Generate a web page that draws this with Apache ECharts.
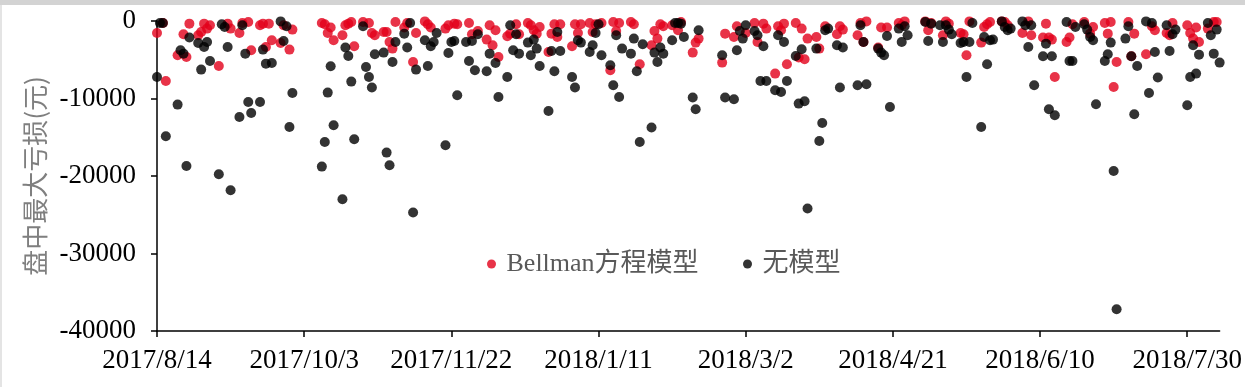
<!DOCTYPE html>
<html>
<head>
<meta charset="utf-8">
<script src="https://cdn.jsdelivr.net/npm/echarts@6/dist/echarts.min.js"></script>
<style>
html,body{margin:0;padding:0;background:#fff;}
#wrap{position:relative;width:1245px;height:387px;overflow:hidden;}
#chart{position:absolute;left:0;top:0;width:1245px;height:387px;}
#topband{position:absolute;left:0;top:0;width:1245px;height:5px;background:#d3d3d3;}
#leftband{position:absolute;left:0;top:5px;width:2px;height:382px;background:#e4e4e4;}
</style>
</head>
<body>
<div id="wrap"><div id="chart"></div><div id="topband"></div><div id="leftband"></div></div>
<script>
// ---------- data ----------
const startDate = '2017-08-14';
const axisEndDay = 361;          // 2018-08-10
const tickDays = [0, 50, 100, 150, 200, 250, 300, 350];
const yTicks = [0, -10000, -20000, -30000, -40000];
const seriesNames = ['Bellman方程模型', '无模型'];

const bellmanDates = ['2017-08-14','2017-08-16','2017-08-17','2017-08-21','2017-08-23','2017-08-24','2017-08-25','2017-08-28','2017-08-29','2017-08-30','2017-08-31','2017-09-01','2017-09-04','2017-09-07','2017-09-08','2017-09-11','2017-09-12','2017-09-14','2017-09-15','2017-09-18','2017-09-19','2017-09-20','2017-09-21','2017-09-22','2017-09-25','2017-09-26','2017-09-28','2017-09-29',
'2017-10-09','2017-10-10','2017-10-11','2017-10-12','2017-10-13','2017-10-16','2017-10-17','2017-10-18','2017-10-19','2017-10-20','2017-10-23','2017-10-25','2017-10-26','2017-10-27','2017-10-30','2017-10-31','2017-11-01','2017-11-02','2017-11-03','2017-11-06','2017-11-07','2017-11-09','2017-11-10','2017-11-13','2017-11-14','2017-11-15','2017-11-20','2017-11-21','2017-11-23','2017-11-24','2017-11-28','2017-11-29',
'2017-12-01','2017-12-04','2017-12-05','2017-12-06','2017-12-07','2017-12-08','2017-12-11','2017-12-12','2017-12-14','2017-12-15','2017-12-18','2017-12-19','2017-12-20','2017-12-21','2017-12-22','2017-12-25','2017-12-26','2017-12-27','2017-12-28','2017-12-29',
'2018-01-02','2018-01-03','2018-01-04','2018-01-05','2018-01-08','2018-01-09','2018-01-10','2018-01-12','2018-01-15','2018-01-16','2018-01-17','2018-01-18','2018-01-22','2018-01-23','2018-01-25','2018-01-29','2018-01-30','2018-01-31','2018-02-01','2018-02-02','2018-02-05','2018-02-07','2018-02-08','2018-02-12','2018-02-13','2018-02-14',
'2018-02-22','2018-02-23','2018-02-26','2018-02-27','2018-03-02','2018-03-05','2018-03-06','2018-03-08','2018-03-09','2018-03-12','2018-03-13','2018-03-14','2018-03-15','2018-03-16','2018-03-19','2018-03-20','2018-03-21','2018-03-22','2018-03-23','2018-03-26','2018-03-27','2018-03-29',
'2018-04-02','2018-04-03','2018-04-04','2018-04-09','2018-04-10','2018-04-11','2018-04-12','2018-04-16','2018-04-17','2018-04-19','2018-04-23','2018-04-24','2018-04-25',
'2018-05-02','2018-05-03','2018-05-04','2018-05-08','2018-05-09','2018-05-10','2018-05-14','2018-05-15','2018-05-16','2018-05-17','2018-05-21','2018-05-22','2018-05-23','2018-05-24','2018-05-28','2018-05-29','2018-05-30',
'2018-06-04','2018-06-06','2018-06-07','2018-06-11','2018-06-12','2018-06-13','2018-06-14','2018-06-15','2018-06-19','2018-06-20','2018-06-21','2018-06-25','2018-06-27','2018-06-28',
'2018-07-02','2018-07-03','2018-07-04','2018-07-05','2018-07-06','2018-07-10','2018-07-11','2018-07-12','2018-07-16','2018-07-18','2018-07-19','2018-07-23','2018-07-24','2018-07-25','2018-07-30','2018-07-31','2018-08-01','2018-08-02','2018-08-03','2018-08-06','2018-08-08','2018-08-09'];
const bellmanLoss = [-1550,-260,-7740,-4430,-1720,-4640,-340,-1840,-1420,-340,-980,-550,-5810,-340,-980,-1550,-260,-130,-3780,-550,-340,-3350,-340,-2490,-2840,-550,-3690,-1110,
-260,-430,-1550,-850,-2490,-1840,-550,-340,-130,-3260,-130,-260,-1550,-1840,-1420,-1420,-2710,-3560,-130,-850,-260,-5290,-1550,-50,-430,-850,-980,-550,-340,-430,-260,-1720,
-1290,-2400,-550,-3140,-1200,-4640,-1970,-1630,-430,-1720,-260,-550,-1200,-1630,-770,-4000,-1630,-430,-2060,-430,
-3260,-430,-1550,-430,-260,-1420,-430,-260,-6360,-130,-1290,-260,-130,-430,-5590,-3140,-1290,-2270,-430,-680,-550,-1200,-130,-4080,-2790,-2270,
-5370,-1630,-2060,-680,-1550,-260,-2710,-340,-980,-6790,-680,-1200,-340,-5590,-260,-4720,-980,-4940,-2270,-2060,-3560,-680,
-1720,-680,-1110,-1840,-260,-2710,-50,-3430,-850,-850,-260,-550,-50,
-50,-1200,-260,-1840,-50,-340,-1550,-1720,-4430,-50,-2790,-770,-430,-130,-50,-130,-550,
-1550,-50,-1840,-2140,-340,-2140,-2400,-7230,-2710,-2140,-430,-130,-1630,-770,
-260,-1630,-130,-8520,-5290,-130,-4550,-1630,-4300,-680,-1200,-1550,-1840,-260,-550,-1550,-2270,-850,-2710,-980,-130,-130];

const noModelDates = ['2017-08-14','2017-08-15','2017-08-16','2017-08-17','2017-08-21','2017-08-22','2017-08-23','2017-08-24','2017-08-25','2017-08-28','2017-08-29','2017-08-30','2017-08-31','2017-09-01','2017-09-04','2017-09-05','2017-09-06','2017-09-07','2017-09-08','2017-09-11','2017-09-12','2017-09-13','2017-09-14','2017-09-15','2017-09-18','2017-09-19','2017-09-20','2017-09-22','2017-09-25','2017-09-26','2017-09-27','2017-09-28','2017-09-29',
'2017-10-09','2017-10-10','2017-10-11','2017-10-12','2017-10-13','2017-10-16','2017-10-17','2017-10-18','2017-10-19','2017-10-20','2017-10-23','2017-10-24','2017-10-25','2017-10-26','2017-10-27','2017-10-30','2017-10-31','2017-11-01','2017-11-02','2017-11-03','2017-11-06','2017-11-07','2017-11-08','2017-11-09','2017-11-10','2017-11-13','2017-11-14','2017-11-15','2017-11-16','2017-11-17','2017-11-20','2017-11-21','2017-11-22','2017-11-23','2017-11-24','2017-11-27','2017-11-28','2017-11-29','2017-11-30',
'2017-12-01','2017-12-04','2017-12-05','2017-12-07','2017-12-08','2017-12-11','2017-12-12','2017-12-13','2017-12-14','2017-12-15','2017-12-18','2017-12-19','2017-12-20','2017-12-21','2017-12-22','2017-12-25','2017-12-26','2017-12-27','2017-12-28','2017-12-29',
'2018-01-02','2018-01-03','2018-01-04','2018-01-05','2018-01-08','2018-01-09','2018-01-10','2018-01-11','2018-01-12','2018-01-15','2018-01-16','2018-01-17','2018-01-18','2018-01-19','2018-01-22','2018-01-23','2018-01-24','2018-01-25','2018-01-26','2018-01-29','2018-01-30','2018-01-31','2018-02-01','2018-02-02','2018-02-05','2018-02-06','2018-02-07','2018-02-08','2018-02-09','2018-02-12','2018-02-13','2018-02-14',
'2018-02-22','2018-02-23','2018-02-26','2018-02-27','2018-02-28','2018-03-01','2018-03-02','2018-03-05','2018-03-06','2018-03-07','2018-03-08','2018-03-09','2018-03-12','2018-03-13','2018-03-14','2018-03-15','2018-03-16','2018-03-19','2018-03-20','2018-03-21','2018-03-22','2018-03-23','2018-03-26','2018-03-27','2018-03-28','2018-03-29','2018-03-30',
'2018-04-02','2018-04-03','2018-04-04','2018-04-09','2018-04-10','2018-04-11','2018-04-12','2018-04-16','2018-04-17','2018-04-18','2018-04-19','2018-04-20','2018-04-23','2018-04-24','2018-04-25','2018-04-26',
'2018-05-02','2018-05-03','2018-05-04','2018-05-07','2018-05-08','2018-05-09','2018-05-10','2018-05-11','2018-05-14','2018-05-15','2018-05-16','2018-05-17','2018-05-18','2018-05-21','2018-05-22','2018-05-23','2018-05-24','2018-05-25','2018-05-28','2018-05-29','2018-05-30','2018-05-31',
'2018-06-04','2018-06-05','2018-06-06','2018-06-07','2018-06-08','2018-06-11','2018-06-12','2018-06-13','2018-06-14','2018-06-15','2018-06-19','2018-06-20','2018-06-21','2018-06-22','2018-06-25','2018-06-26','2018-06-27','2018-06-28','2018-06-29',
'2018-07-02','2018-07-03','2018-07-04','2018-07-05','2018-07-06','2018-07-09','2018-07-10','2018-07-11','2018-07-12','2018-07-13','2018-07-16','2018-07-17','2018-07-18','2018-07-19','2018-07-20','2018-07-23','2018-07-24','2018-07-25','2018-07-26','2018-07-30','2018-07-31','2018-08-01','2018-08-02','2018-08-03','2018-08-06','2018-08-07','2018-08-08','2018-08-09','2018-08-10'];
const noModelLoss = [-7230,-260,-260,-14880,-10790,-3780,-4210,-18710,-2140,-2840,-6270,-3350,-2710,-5160,-19780,-430,-770,-3350,-21850,-12390,-550,-4210,-10450,-11870,-10450,-3690,-5500,-5420,-50,-2580,-680,-13680,-9290,
-18790,-15610,-9240,-5840,-13460,-23000,-3430,-4520,-7820,-15260,-680,-5940,-7230,-8590,-4300,-4080,-16980,-18620,-5290,-2710,-1630,-3430,-260,-24720,-6270,-2490,-5810,-3260,-2710,-1550,-16040,-4130,-2710,-2580,-9590,-2710,-5160,-2580,-6360,
-1720,-6490,-4210,-5420,-9810,-7230,-550,-3780,-1720,-4210,-2790,-4430,-2400,-3560,-5810,-11610,-3870,-6490,-1420,-3870,
-7230,-8590,-2490,-2790,-4000,-3140,-1550,-430,-4430,-5720,-8300,-1840,-9810,-3560,-4210,-2270,-6490,-15610,-3010,-13750,-4080,-5290,-3430,-4210,-2490,-260,-260,-340,-2060,-9880,-11390,-1200,
-4430,-9880,-10100,-3780,-1290,-2270,-550,-1290,-1840,-7740,-3260,-7740,-8940,-1840,-9160,-2710,-7740,-4520,-10660,-3650,-10360,-24200,-3560,-15480,-13160,-1200,-980,
-3140,-8590,-3430,-8300,-550,-2710,-8170,-3560,-4080,-4430,-1940,-11100,-980,-2710,-680,-1840,
-130,-2580,-340,-550,-2710,-550,-1110,-1720,-2840,-2710,-7230,-2710,-260,-13680,-2060,-5590,-2490,-2400,-50,-770,-1200,-980,
-50,-550,-3350,-550,-8300,-4550,-2920,-11390,-4550,-12170,-130,-5160,-5160,-770,-430,-1110,-2060,-2490,-10750,
-5160,-4300,-2790,-19350,-37200,-2270,-680,-4550,-12040,-5810,-50,-9290,-260,-4000,-7300,-550,-3870,-1720,-1110,-10880,-7230,-3140,-6790,-4340,-260,-1840,-4210,-1110,-5370];

// ---------- helpers ----------
const DAY = 86400000;
function utc(s){const p=s.split('-').map(Number);return Date.UTC(p[0],p[1]-1,p[2]);}
const t0 = utc(startDate);
function dayIndex(s){return Math.round((utc(s)-t0)/DAY);}
function dayLabel(v){const d=new Date(t0+v*DAY);return d.getUTCFullYear()+'/'+(d.getUTCMonth()+1)+'/'+d.getUTCDate();}
function pairs(dates, vals){return dates.map((d,i)=>[dayIndex(d), vals[i]]);}

const serif = "'Liberation Serif','Times New Roman','Noto Sans CJK SC',serif";
const chart = echarts.init(document.getElementById('chart'), null, {renderer:'canvas'});
const legendText = {fontSize:26, color:'#595959', fontFamily:serif, lineHeight:28};
chart.setOption({
  animation:false,
  backgroundColor:'#ffffff',
  grid:{left:157, right:25, top:21, bottom:56},
  legend:[
    {data:[seriesNames[0]], left:482, top:245, icon:'circle', itemWidth:20, itemHeight:9, textStyle:legendText},
    {data:[seriesNames[1]], left:738, top:245, icon:'circle', itemWidth:20, itemHeight:9, textStyle:legendText}
  ],
  xAxis:{
    type:'value', min:0, max:axisEndDay,
    axisLine:{show:true, onZero:false, lineStyle:{color:'#000', width:1.5}},
    axisTick:{show:true, inside:false, length:6, customValues:tickDays, lineStyle:{color:'#000', width:1.5}},
    axisLabel:{customValues:tickDays, formatter:dayLabel, fontSize:27, fontFamily:serif, color:'#000', margin:16},
    splitLine:{show:false}
  },
  yAxis:{
    type:'value', min:-40000, max:0, interval:10000,
    name:'盘中最大亏损(元)', nameLocation:'middle', nameGap:104,
    nameTextStyle:{fontSize:26, color:'#7f7f7f', fontFamily:"'Noto Sans CJK SC',sans-serif"},
    axisLine:{show:true, onZero:false, lineStyle:{color:'#000', width:1.5}},
    axisTick:{show:true, inside:false, length:6, lineStyle:{color:'#000', width:1.5}},
    axisLabel:{customValues:yTicks, formatter:function(v){return String(v);}, fontSize:27, fontFamily:serif, color:'#000', margin:21},
    splitLine:{show:false}
  },
  series:[
    {name:seriesNames[0], type:'scatter', symbol:'circle', symbolSize:10, itemStyle:{color:'#e2001a'}, data:pairs(bellmanDates, bellmanLoss)},
    {name:seriesNames[1], type:'scatter', symbol:'circle', symbolSize:10, itemStyle:{color:'#000000'}, data:pairs(noModelDates, noModelLoss)}
  ]
});
</script>
</body>
</html>
